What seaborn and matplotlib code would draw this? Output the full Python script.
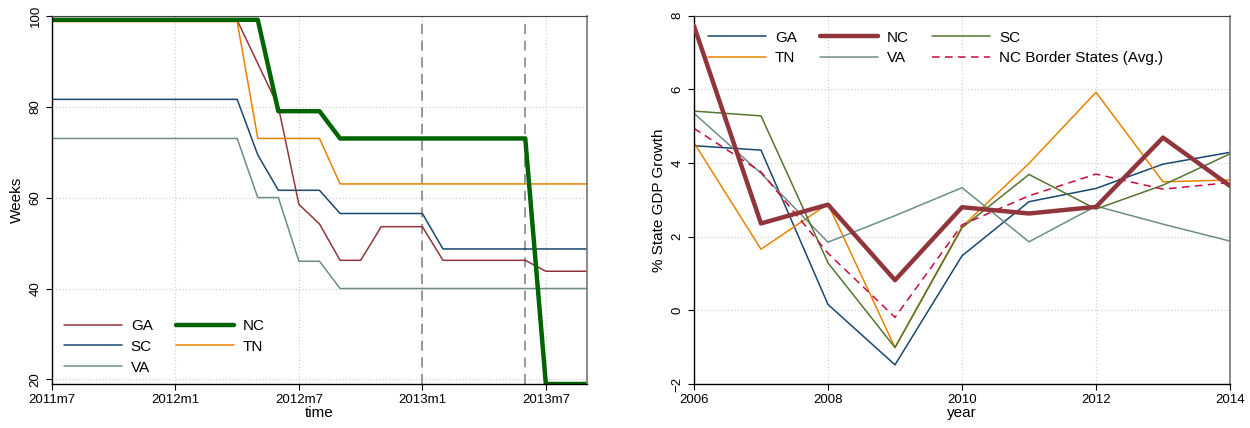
import matplotlib
matplotlib.use("Agg")
import matplotlib.pyplot as plt
import seaborn as sns
import pandas as pd
import numpy as np

# ---------------- data: left panel (weeks of benefits) ----------------
months = ["2011m7", "2011m8", "2011m9", "2011m10", "2011m11", "2011m12",
          "2012m1", "2012m2", "2012m3", "2012m4", "2012m5", "2012m6",
          "2012m7", "2012m8", "2012m9", "2012m10", "2012m11", "2012m12",
          "2013m1", "2013m2", "2013m3", "2013m4", "2013m5", "2013m6",
          "2013m7", "2013m8", "2013m9"]
weeks_GA = [99, 99, 99, 99, 99, 99, 99, 99, 99, 99, 89.5, 80, 58.5, 54.2, 46.2, 46.2,
            53.6, 53.6, 53.6, 46.2, 46.2, 46.2, 46.2, 46.2, 43.8, 43.8, 43.8]
weeks_NC = [99.1, 99.1, 99.1, 99.1, 99.1, 99.1, 99.1, 99.1, 99.1, 99.1, 99.1, 79, 79, 79, 73, 73,
            73, 73, 73, 73, 73, 73, 73, 73, 19, 19, 19]
weeks_SC = [81.6, 81.6, 81.6, 81.6, 81.6, 81.6, 81.6, 81.6, 81.6, 81.6, 69.4, 61.6, 61.6, 61.6, 56.5, 56.5,
            56.5, 56.5, 56.5, 48.7, 48.7, 48.7, 48.7, 48.7, 48.7, 48.7, 48.7]
weeks_TN = [98.7, 98.7, 98.7, 98.7, 98.7, 98.7, 98.7, 98.7, 98.7, 98.7, 73, 73, 73, 73, 63, 63,
            63, 63, 63, 63, 63, 63, 63, 63, 63, 63, 63]
weeks_VA = [73, 73, 73, 73, 73, 73, 73, 73, 73, 73, 60, 60, 46, 46, 40, 40,
            40, 40, 40, 40, 40, 40, 40, 40, 40, 40, 40]
month_ticks = ["2011m7", "2012m1", "2012m7", "2013m1", "2013m7"]
event_months = ["2013m1", "2013m6"]

# ---------------- data: right panel (GDP growth) ----------------
years = [2006, 2007, 2008, 2009, 2010, 2011, 2012, 2013, 2014]
gdp_GA = [4.47, 4.35, 0.16, -1.48, 1.48, 2.95, 3.31, 3.97, 4.29]
gdp_NC = [7.72, 2.36, 2.87, 0.82, 2.80, 2.63, 2.81, 4.69, 3.38]
gdp_SC = [5.41, 5.28, 1.29, -1.01, 2.24, 3.69, 2.75, 3.40, 4.25]
gdp_TN = [4.55, 1.66, 2.89, -1.01, 2.27, 3.99, 5.92, 3.49, 3.54]
gdp_VA = [5.35, 3.72, 1.85, 2.57, 3.33, 1.86, 2.83, 2.34, 1.88]
gdp_AVG = [4.94, 3.76, 1.55, -0.19, 2.32, 3.11, 3.70, 3.29, 3.47]
year_ticks = [2006, 2008, 2010, 2012, 2014]

# ---------------- style ----------------
sns.set_theme(style="white")
plt.rcParams["font.family"] = ["Liberation Sans", "DejaVu Sans"]
plt.rcParams["text.color"] = "black"
plt.rcParams["axes.labelcolor"] = "black"
plt.rcParams["xtick.color"] = "black"
plt.rcParams["ytick.color"] = "black"

maroon = (144/255, 53/255, 59/255)
navy = (26/255, 71/255, 111/255)
dkgreen = (0/255, 100/255, 0/255)
dkorange = (232/255, 130/255, 0/255)
teal = (110/255, 142/255, 132/255)
forest = (85/255, 117/255, 47/255)
cranberry = (200/255, 10/255, 60/255)

fig = plt.figure(figsize=(12.5, 4.28), dpi=100)
ax1 = fig.add_axes([0.0416, 0.1028, 0.428, 0.8605])
ax2 = fig.add_axes([0.5552, 0.1028, 0.4288, 0.8605])

grid_kw = dict(color="#cccccc", linestyle=(0, (1, 2)), linewidth=0.8)

def style_axes(ax):
    for s in ["left", "bottom"]:
        ax.spines[s].set_color("black")
        ax.spines[s].set_linewidth(1.0)
    ax.spines["top"].set_color("#444444")
    ax.spines["right"].set_color("#777777")
    ax.spines["top"].set_linewidth(0.8)
    ax.spines["right"].set_linewidth(1.2)
    ax.tick_params(axis="both", direction="out", length=4, width=0.8,
                   color="black", labelcolor="black", labelsize=9.5,
                   left=True, bottom=True)
    for lab in ax.get_yticklabels():
        lab.set_rotation(90)
        lab.set_va("center")
    ax.grid(True, **grid_kw)
    ax.set_axisbelow(True)

leg_kw = dict(frameon=False, fontsize=11, handlelength=3.8, columnspacing=1.5,
              labelspacing=0.45, handletextpad=0.6)

# ---------------- left panel ----------------
midx = np.arange(len(months))
left_series = [("GA", weeks_GA, maroon, 1.1), ("SC", weeks_SC, navy, 1.1),
               ("VA", weeks_VA, teal, 1.1), ("NC", weeks_NC, dkgreen, 3.2),
               ("TN", weeks_TN, dkorange, 1.1)]
draw_order = ["VA", "SC", "GA", "TN", "NC"]
lines_left = {}
for name in draw_order:
    for n, vals, col, lw in left_series:
        if n == name:
            df = pd.DataFrame({"m": midx, "v": vals})
            sns.lineplot(data=df, x="m", y="v", ax=ax1, color=col, linewidth=lw,
                         legend=False)
            lines_left[n] = ax1.get_lines()[-1]

for em in event_months:
    ax1.axvline(months.index(em), color="#888888", linestyle=(0, (6, 4)), linewidth=1.2, zorder=1)

ax1.set_xlim(0, len(months) - 1)
ax1.set_ylim(19, 100)
ax1.set_xticks([months.index(t) for t in month_ticks])
ax1.set_xticklabels(month_ticks)
ax1.set_yticks([20, 40, 60, 80, 100])
ax1.set_xlabel("time", fontsize=11, labelpad=0)
ax1.set_ylabel("Weeks", fontsize=11, labelpad=4)
style_axes(ax1)
names_l = ["GA", "SC", "VA", "NC", "TN"]
ax1.legend(handles=[lines_left[n] for n in names_l], labels=names_l, ncol=2,
           loc="lower left", bbox_to_anchor=(-0.004, -0.012), **leg_kw)

# ---------------- right panel ----------------
right_series = [("GA", gdp_GA, navy, 1.1, "-"), ("TN", gdp_TN, dkorange, 1.1, "-"),
                ("NC", gdp_NC, maroon, 3.2, "-"), ("VA", gdp_VA, teal, 1.1, "-"),
                ("SC", gdp_SC, forest, 1.1, "-"),
                ("NC Border States (Avg.)", gdp_AVG, cranberry, 1.1, (0, (5, 3.5)))]
lines_right = {}
for n, vals, col, lw, ls in right_series:
    df = pd.DataFrame({"y": years, "v": vals})
    sns.lineplot(data=df, x="y", y="v", ax=ax2, color=col, linewidth=lw,
                 legend=False, zorder=3 if n == "NC" else 2)
    ln = ax2.get_lines()[-1]
    ln.set_linestyle(ls)
    lines_right[n] = ln

ax2.set_xlim(2006, 2014)
ax2.set_ylim(-2, 8)
ax2.set_xticks(year_ticks)
ax2.set_yticks([-2, 0, 2, 4, 6, 8])
ax2.set_xlabel("year", fontsize=11, labelpad=0)
ax2.set_ylabel("% State GDP Growth", fontsize=11, labelpad=4)
style_axes(ax2)
names_r = ["GA", "TN", "NC", "VA", "SC", "NC Border States (Avg.)"]
ax2.legend(handles=[lines_right[n] for n in names_r], labels=names_r, ncol=3,
           loc="upper left", bbox_to_anchor=(0.0, 0.997), **leg_kw)

fig.savefig("out.png", dpi=100)
